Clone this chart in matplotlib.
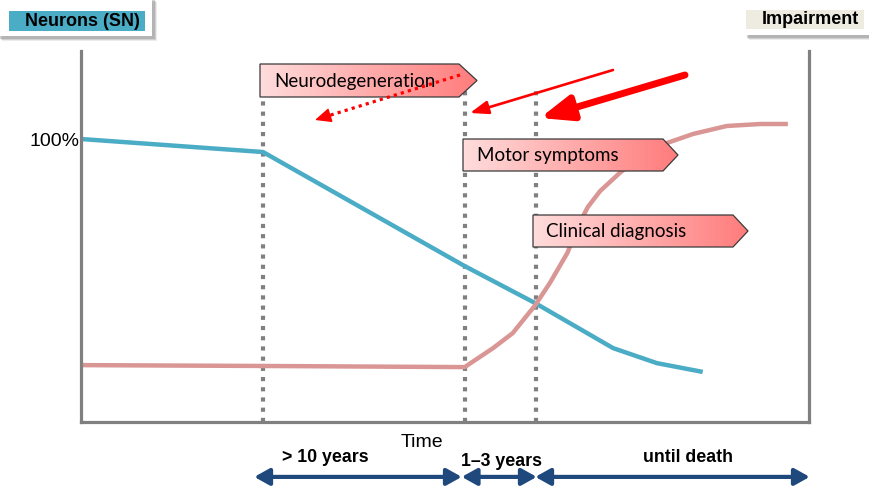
import numpy as np
import matplotlib
matplotlib.use("Agg")
import matplotlib.pyplot as plt
from matplotlib.patches import Polygon, Rectangle, FancyArrowPatch
from matplotlib.colors import LinearSegmentedColormap

plt.rcParams['font.family'] = ['Liberation Sans', 'DejaVu Sans']

# 时间轴 (任意单位 0-100) 与神经元/损伤百分比
neuron_t = [0, 25.0, 52.7, 62.4, 73.1, 79.1, 85.4]
neuron_v = [100, 95.4, 55.1, 42.0, 26.1, 20.8, 17.7]

impair_t = [0, 25.0, 52.7, 56.6, 59.3, 62.4, 64.4, 66.8, 68.5, 69.6, 71.3,
            74.0, 77.2, 80.5, 84.1, 88.7, 93.3, 97.1]
impair_v = [20.1, 19.8, 19.4, 26.1, 31.4, 41.3, 49.1, 59.7, 70.3, 75.9, 81.6,
            88.0, 94.7, 98.6, 101.8, 104.6, 105.3, 105.3]

# 各阶段的时间点
phase_t = [25.0, 52.7, 62.5]
phase_top = [126.5, 126.1, 117.7]

# 底部时间段
period_start = [23.8, 52.3, 62.4]
period_end = [52.3, 62.6, 100.1]
period_label = ['> 10 years', '1–3 years', 'until death']
period_label_t = [33.5, 57.7, 83.4]
period_label_y = [-12.7, -14.1, -12.7]

W, H = 869, 487
fig = plt.figure(figsize=(W / 100, H / 100), dpi=100)

# 主坐标区
ax = fig.add_axes([81 / W, 1 - 422 / H, (809 - 81) / W, (422 - 51) / H])
ax.set_xlim(0, 100)
ax.set_ylim(0, 131.1)
for s in ['left', 'right', 'bottom']:
    ax.spines[s].set_color('#808080')
    ax.spines[s].set_linewidth(2.3)
ax.spines['top'].set_visible(False)
ax.set_xticks([])
ax.set_yticks([100])
ax.set_yticklabels(['100%'], fontsize=14)
ax.tick_params(axis='y', length=0, pad=1)

# 阶段竖线 (点线)
for t, top in zip(phase_t, phase_top):
    ax.plot([t, t], [0, top], color='#808080', lw=3, dashes=(1, 1.45),
            solid_capstyle='butt', dash_capstyle='butt', zorder=1)

ax.plot(neuron_t, neuron_v, color='#4BACC6', lw=3.2, zorder=2,
        solid_capstyle='butt', solid_joinstyle='round')
ax.plot(impair_t, impair_v, color='#D99694', lw=3.2, zorder=2,
        solid_capstyle='butt', solid_joinstyle='round')

ax.text(46.8, -7.1, 'Time', fontsize=14, ha='center', va='center')

for x0, x1, lab, lt, ly in zip(period_start, period_end, period_label,
                               period_label_t, period_label_y):
    ax.add_patch(FancyArrowPatch((x0, -19.4), (x1, -19.4),
                                 arrowstyle='<|-|>,head_length=9,head_width=5',
                                 mutation_scale=1, lw=3, color='#1F497D',
                                 shrinkA=0, shrinkB=0, clip_on=False))
    ax.text(lt, ly, lab, fontsize=12.8, fontweight='bold', ha='center', va='center')

# 叠加层 (像素坐标)
ov = fig.add_axes([0, 0, 1, 1])
ov.set_zorder(2)
ov.patch.set_alpha(0)
ov.axis('off')

cmap = LinearSegmentedColormap.from_list('tag', ['#FFDCDC', '#FF7C7C'])
grad = np.linspace(0, 1, 256).reshape(1, -1)


def tag(x0, y0, x1, tip, y1, label, tx):
    verts = [(x0, y0), (x1, y0), (tip, (y0 + y1) / 2), (x1, y1), (x0, y1)]
    poly = Polygon(verts, closed=True, fc='none', ec='#3A3A3A', lw=0.9, zorder=4)
    ov.add_patch(poly)
    im = ov.imshow(grad, cmap=cmap, extent=[x0, tip, y1, y0], aspect='auto', zorder=3)
    im.set_clip_path(poly)
    ov.text(tx, (y0 + y1) / 2 + 1, label, fontsize=13.5, family='Lato',
            ha='left', va='center', zorder=5)


tag(260, 64, 459, 477, 97, 'Neurodegeneration', 274)
tag(463, 139, 663, 678, 171, 'Motor symptoms', 477)
tag(533, 215, 733, 748, 247, 'Clinical diagnosis', 546)


def header(bx0, by0, bx1, by1, cx0, cy0, cx1, cy1, color, label, lx):
    for off, a in [(5, 0.15), (4, 0.25), (3, 0.35)]:
        ov.add_patch(Rectangle((bx0 + off, by0 + off), bx1 - bx0, by1 - by0,
                               fc='#808080', ec='none', alpha=a, zorder=6))
    ov.add_patch(Rectangle((bx0, by0), bx1 - bx0, by1 - by0, fc='white',
                           ec='none', zorder=7))
    ov.add_patch(Rectangle((cx0, cy0), cx1 - cx0, cy1 - cy0, fc=color,
                           ec='none', zorder=8))
    ov.text(lx, (cy0 + cy1) / 2 + 0.5, label, fontsize=13, fontweight='bold',
            ha='center', va='center', zorder=9)


header(-3, -3, 152, 36, 9, 11, 145, 31, '#4BACC6', 'Neurons (SN)', 82)
header(744, -3, 875, 35, 746, 10, 864, 29, '#EEECE1', 'Impairment', 810)

# 红色箭头
ov.plot([460, 326], [75, 116.5], color='red', lw=2.3, dashes=(1, 1.3),
        dash_capstyle='butt', zorder=10)
ov.add_patch(FancyArrowPatch((332, 114.7), (315, 120),
                             arrowstyle='-|>,head_length=10,head_width=4.5',
                             mutation_scale=1, lw=1, color='red',
                             shrinkA=0, shrinkB=0, zorder=10))
ov.add_patch(FancyArrowPatch((613, 70), (470, 113),
                             arrowstyle='-|>,head_length=11,head_width=4',
                             mutation_scale=1, lw=1.9, color='red',
                             shrinkA=0, shrinkB=0, zorder=10))
ov.add_patch(FancyArrowPatch((685, 75), (540, 118),
                             arrowstyle='-|>,head_length=19,head_width=7.5',
                             mutation_scale=1, lw=5, color='red',
                             shrinkA=0, shrinkB=0, zorder=10))

ov.set_xlim(0, W)
ov.set_ylim(H, 0)

fig.savefig('out.png', dpi=100)
